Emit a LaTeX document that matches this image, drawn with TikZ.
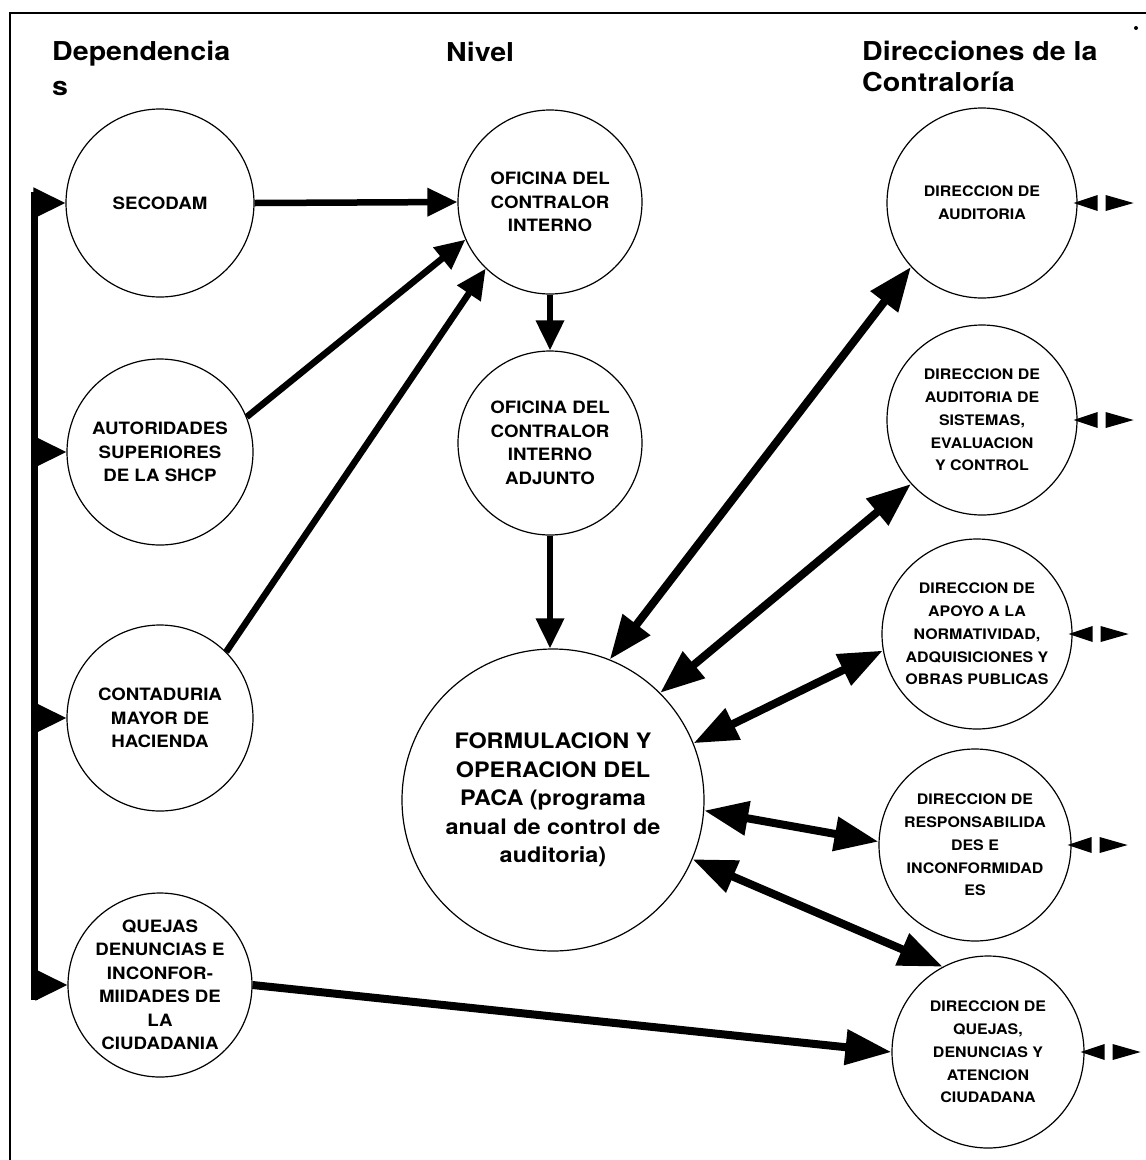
\documentclass[tikz,border=0pt]{standalone}
\usepackage{fontspec}
\setmainfont{TeX Gyre Heros}
\newfontfamily\lbl[FakeStretch=1.1]{TeX Gyre Heros}
\usetikzlibrary{arrows.meta}
\begin{document}
\begin{tikzpicture}[x=1pt,y=-1pt,
  circ/.style={circle, draw, line width=1.2pt, inner sep=0pt, align=center,
    font=\lbl\bfseries\fontsize{17}{23.5}\selectfont},
  rcirc/.style={circ, font=\lbl\bfseries\fontsize{14.5}{22.8}\selectfont},
  bigcirc/.style={circ, font=\lbl\bfseries\fontsize{21.3}{28.5}\selectfont},
  head/.style={font=\lbl\bfseries\fontsize{26}{32}\selectfont, inner sep=0pt, anchor=base west},
  arr/.style={line width=6.5pt, -{Triangle[length=30pt,width=27pt]}},
  bararr/.style={line width=5pt, -{Triangle[length=32pt,width=30pt]}},
  dbl/.style={line width=8pt, {Triangle[length=44pt,width=33pt]}-{Triangle[length=44pt,width=33pt]}},
  big/.style={line width=8pt, -{Triangle[length=46pt,width=34pt]}},
]
\useasboundingbox (0,0) rectangle (1146,1160);
\fill[white] (0,0) rectangle (1146,1160);

% frame
\draw[line width=1.6pt] (10,1160) -- (10,13) -- (1146,13);
\fill (1136,28) circle (2pt);

% column headings
\node[head] (h1a) at (52,60) {Dependencia};
\node[head] (h1b) at (52,95) {s};
\node[head] (h2) at (446,61) {Nivel};
\node[head] (h3a) at (862,60) {Direcciones de la};
\node[head] (h3b) at (862,91) {Contraloría};

% dependencias
\node[circ, minimum size=188pt] (sec) at (160,203) {SECODAM};
\node[circ, minimum size=186pt] (aut) at (160,452) {AUTORIDADES\\SUPERIORES\\DE LA SHCP};
\node[circ, minimum size=186pt] (con) at (160,718) {CONTADURIA\\MAYOR DE\\HACIENDA};
\node[circ, minimum size=184pt] (qle) at (160,985) {QUEJAS\\DENUNCIAS E\\INCONFOR-\\MIIDADES DE\\LA\\CIUDADANIA};

% nivel
\node[circ, minimum size=184pt] (oci) at (550,202) {OFICINA DEL\\CONTRALOR\\INTERNO};
\node[circ, minimum size=184pt] (adj) at (550,443) {OFICINA DEL\\CONTRALOR\\INTERNO\\ADJUNTO};
\node[bigcirc, minimum size=302pt] (form) at (553,800) {FORMULACION Y\\OPERACION DEL\\PACA (programa\\anual de control de\\auditoria)};

% direcciones
\node[rcirc, minimum size=190pt] (aud) at (982,203) {DIRECCION DE\\AUDITORIA};
\node[rcirc, minimum size=190pt] (sis) at (982,420) {DIRECCION DE\\AUDITORIA DE\\SISTEMAS,\\EVALUACION\\Y CONTROL};
\node[rcirc, minimum size=190pt] (apo) at (977,634) {DIRECCION DE\\APOYO A LA\\NORMATIVIDAD,\\ADQUISICIONES Y\\OBRAS PUBLICAS};
\node[rcirc, minimum size=192pt] (res) at (975,845) {DIRECCION DE\\RESPONSABILIDA\\DES E\\INCONFORMIDAD\\ES};
\node[rcirc, minimum size=192pt] (dqu) at (988,1052) {DIRECCION DE\\QUEJAS,\\DENUNCIAS Y\\ATENCION\\CIUDADANA};

% distribution bar on the left
\coordinate (bartop) at (34,192);
\coordinate (barbot) at (34,1000);
\draw[line width=7pt] (bartop) -- (barbot);
\coordinate (b1) at (33,203);
\coordinate (b2) at (33,452);
\coordinate (b3) at (33,718);
\coordinate (b4) at (33,985);
\draw[bararr] (b1) -- (sec.west);
\draw[bararr] (b2) -- (aut.west);
\draw[bararr] (b3) -- (con.west);
\draw[bararr] (b4) -- (qle.west);

% flows into the internal comptroller
\draw[arr] (sec.east) -- (oci.west);
\draw[arr] (aut.22) -- (oci.204);
\draw[arr] (con.45) -- (oci.226);
\draw[arr] (oci.south) -- (adj.north);
\draw[arr] (adj.south) -- (adj.south |- form.north);

% PACA with each direction
\draw[dbl] (form.68) -- (aud.222);
\draw[dbl] (form.45) -- (sis.222);
\draw[dbl] (form.22) -- (apo.190);
\draw[dbl] (form.-4) -- (res.178);
\draw[dbl] (form.-23) -- (dqu.118);

% citizen complaints
\draw[big] (qle.east) -- (dqu.west);

% outward links of the directions
\foreach \n in {aud,sis,apo,res,dqu} {
  \fill ([xshift=-4pt]\n.east) -- ++(24,-8) -- ++(0,16) -- cycle;
  \fill ([xshift=28pt]\n.east) ++(0,-8) -- ++(28,8) -- ++(-28,8) -- cycle;
}
\end{tikzpicture}
\end{document}
